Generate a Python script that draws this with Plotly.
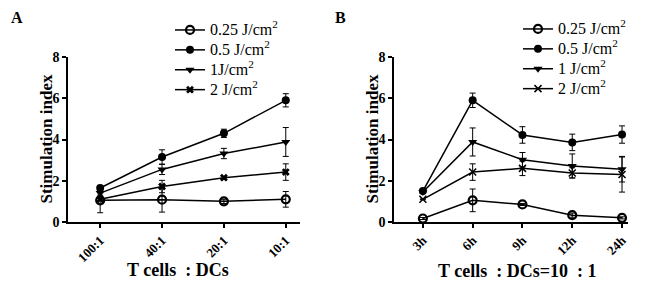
import plotly.graph_objects as go

# ---------------- data ----------------
cats_a = ["100:1", "40:1", "20:1", "10:1"]
cats_b = ["3h", "6h", "9h", "12h", "24h"]

names_a = ["0.25 J/cm<sup>2</sup>", "0.5 J/cm<sup>2</sup>", "1J/cm<sup>2</sup>", "2 J/cm<sup>2</sup>"]
names_b = ["0.25 J/cm<sup>2</sup>", "0.5 J/cm<sup>2</sup>", "1 J/cm<sup>2</sup>", "2 J/cm<sup>2</sup>"]

a_025 = [1.05, 1.08, 1.00, 1.10]
a_025_err = [0.60, 0.60, 0.10, 0.38]
a_05 = [1.65, 3.15, 4.30, 5.90]
a_05_err = [0.10, 0.35, 0.20, 0.32]
a_1 = [1.40, 2.55, 3.32, 3.88]
a_1_err = [0.10, 0.25, 0.25, 0.70]
a_2 = [1.10, 1.72, 2.15, 2.42]
a_2_err = [0.05, 0.30, 0.06, 0.40]

b_025 = [0.17, 1.05, 0.85, 0.33, 0.20]
b_025_err = [0.05, 0.55, 0.05, 0.10, 0.05]
b_05 = [1.50, 5.90, 4.22, 3.86, 4.24]
b_05_err = [0.05, 0.35, 0.40, 0.40, 0.42]
b_1 = [1.45, 3.88, 3.02, 2.72, 2.56]
b_1_err = [0.02, 0.68, 0.35, 0.58, 0.62]
b_2 = [1.10, 2.42, 2.60, 2.38, 2.30]
b_2_err = [0.02, 0.40, 0.35, 0.25, 0.85]

y_ticks = [0, 2, 4, 6, 8]

# ---------------- styles ----------------
FONT = "Liberation Serif"
BLACK = "black"
LEGEND_TEXT_PX = 16
symbols_a = [
    dict(symbol="circle-open", size=8, line=dict(width=2.2, color=BLACK)),
    dict(symbol="circle", size=8, color=BLACK),
    dict(symbol="triangle-down", size=8, color=BLACK),
    dict(symbol="x", size=7, color=BLACK),
]
symbols_b = [
    dict(symbol="circle-open", size=8, line=dict(width=2.2, color=BLACK)),
    dict(symbol="circle", size=8, color=BLACK),
    dict(symbol="triangle-down", size=8, color=BLACK),
    dict(symbol="x-thin-open", size=7, line=dict(width=1.5, color=BLACK)),
]

def legend_label(s):
    return '<span style="font-size:%dpx">%s</span>' % (LEGEND_TEXT_PX, s)

fig = go.Figure()

series_a = [(a_025, a_025_err), (a_05, a_05_err), (a_1, a_1_err), (a_2, a_2_err)]
series_b = [(b_025, b_025_err), (b_05, b_05_err), (b_1, b_1_err), (b_2, b_2_err)]

for (vals, errs), name, mk in zip(series_a, names_a, symbols_a):
    fig.add_trace(go.Scatter(
        x=cats_a, y=vals, name=legend_label(name), mode="lines+markers",
        line=dict(color=BLACK, width=1.5), marker=mk,
        error_y=dict(type="data", array=errs, color=BLACK, thickness=1, width=3),
        xaxis="x", yaxis="y", legend="legend", cliponaxis=False,
    ))

for (vals, errs), name, mk in zip(series_b, names_b, symbols_b):
    fig.add_trace(go.Scatter(
        x=cats_b, y=vals, name=legend_label(name), mode="lines+markers",
        line=dict(color=BLACK, width=1.5), marker=mk,
        error_y=dict(type="data", array=errs, color=BLACK, thickness=1, width=3),
        xaxis="x2", yaxis="y2", legend="legend2", cliponaxis=False,
    ))

W, H = 650, 286
OFF = 8  # default page body margin: figure is drawn 8px from the window corner
def px(x):
    return (x - OFF) / W
def py(y):
    return (H - (y - OFF)) / H

axis_common = dict(
    showline=True, linecolor=BLACK, linewidth=1.5, showgrid=False, zeroline=False,
    ticks="outside", ticklen=4, tickwidth=1.5, tickcolor=BLACK, automargin=False,
)
xfont = dict(family=FONT, size=13, color=BLACK, weight="bold")
yfont = dict(family=FONT, size=14, color=BLACK, weight="bold")

legend_common = dict(
    font=dict(family=FONT, size=13, color=BLACK), bgcolor="rgba(0,0,0,0)",
    xanchor="left", yanchor="top", tracegroupgap=0, itemwidth=30,
)

fig.update_layout(
    width=W, height=H, margin=dict(l=0, r=0, t=0, b=0, pad=0, autoexpand=False),
    paper_bgcolor="white", plot_bgcolor="white",
    font=dict(family=FONT, color=BLACK),
    showlegend=True,
    xaxis=dict(domain=[px(68), px(300)], anchor="y", type="category",
               range=[-0.52, 3.23], tickangle=-45, tickfont=xfont, **axis_common),
    yaxis=dict(domain=[py(222), py(57)], anchor="x", range=[0, 8],
               tickvals=y_ticks, tickfont=yfont, **axis_common),
    xaxis2=dict(domain=[px(394), px(628)], anchor="y2", type="category",
                range=[-0.58, 4.12], tickangle=-45, tickfont=xfont, **axis_common),
    yaxis2=dict(domain=[py(222), py(57)], anchor="x2", range=[0, 8],
                tickvals=y_ticks, tickfont=yfont, **axis_common),
    legend=dict(x=px(170), y=py(15), **legend_common),
    legend2=dict(x=px(518), y=py(14), **legend_common),
)

def ann(text, x, y, size, angle=0, yanchor="middle"):
    fig.add_annotation(text=text, x=px(x), y=py(y), xref="paper", yref="paper",
                       xanchor="center", yanchor=yanchor, textangle=angle,
                       showarrow=False, borderpad=0,
                       font=dict(family=FONT, size=size, color=BLACK, weight="bold"))

ann("Stimulation index", 46, 139.5, 17, -90)
ann("Stimulation index", 372, 139.5, 17, -90)
ann("T cells  : DCs", 178, 270, 18)
ann("T cells  : DCs=10  : 1", 517, 271, 18)
ann("A", 17, OFF, 16, yanchor="top")
ann("B", 340, OFF, 16, yanchor="top")

fig.write_html("out.html")
